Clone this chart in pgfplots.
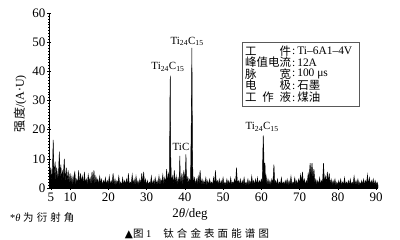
\documentclass[border=0pt]{standalone}
\usepackage{fontspec}
\setmainfont{Liberation Serif}
\newfontfamily\cjk{Noto Sans CJK SC}
\newfontfamily\cjkw[LetterSpace=30]{Noto Sans CJK SC}
\newfontfamily\cjky[LetterSpace=10]{Noto Sans CJK SC}
\newfontfamily\djv{DejaVu Sans}
\usepackage{pgfplots}
\pgfplotsset{compat=1.18}
\begin{document}
\begin{tikzpicture}[x=1bp,y=1bp]
\useasboundingbox (0,0) rectangle (400,240);
\begin{axis}[at={(49bp,52bp)}, anchor=south west, scale only axis,
  width=329bp, height=175bp,
  xmin=4.5, xmax=90.5, ymin=0, ymax=60,
  axis x line=bottom, axis y line=left,
  axis line style={-, line width=0.7pt},
  xtick={5,10,20,30,40,50,60,70,80,90},
  minor xtick={6,7,...,89},
  ytick={0,10,...,60}, minor y tick num=9,
  tick align=center,
  major tick length=4bp, minor tick length=2bp,
  every tick/.style={line width=0.5pt, black},
  /pgf/number format/assume math mode=true,
  ticklabel style={font=\fontsize{13}{14}\selectfont},
  yticklabel style={inner xsep=1.5bp},
  xticklabel style={inner ysep=2.5bp},
  clip=false]
\addplot[black, fill=black, line width=0.45pt, mark=none] coordinates {
(4.6,11) (4.8,3) (5.0,7) (5.2,2) (5.4,6) (5.6,16.5) (5.8,4) (6.1,9) (6.3,2) (6.5,7)
(6.8,3) (7.0,5) (7.2,12.5) (7.4,3) (7.6,8) (7.8,2) (8.0,6) (8.2,3) (8.5,10) (8.7,2)
(9.0,7) (9.25,2) (9.5,6) (9.75,1.5)
(10.0,5) (10.25,1.5) (10.5,4) (10.75,1) (11.0,4) (11.25,5.5) (11.5,1) (11.75,3) (12.0,1.5) (12.25,6)
(12.5,1) (12.75,5) (13.0,2) (13.25,4) (13.5,1) (13.75,5.5) (14.0,1.5) (14.25,3) (14.5,1) (14.75,4.5)
(15.0,2) (15.25,3.5) (15.5,1) (15.75,5.5) (16.0,1.5) (16.25,6) (16.5,1) (16.75,4) (17.0,2) (17.25,3)
(17.5,1) (17.75,4) (18.0,1.5) (18.25,3) (18.5,0.8) (18.75,2.5) (19.0,1.5) (19.25,3.5) (19.5,1) (19.75,2.5)
(20.0,1) (20.25,4) (20.5,0.8) (20.75,2.5) (21.0,1.2) (21.25,5) (21.5,1) (21.75,3) (22.0,0.8) (22.25,2.5)
(22.5,1.5) (22.75,4) (23.0,1) (23.25,2) (23.5,0.8) (23.75,3.5) (24.0,1) (24.25,2.5) (24.5,1.2) (24.75,3)
(25.0,0.8) (25.25,5) (25.5,1) (25.75,2) (26.0,1.5) (26.25,4.5) (26.5,1) (26.75,3) (27.0,0.8) (27.25,4)
(27.5,1.2) (27.75,2.5) (28.0,1) (28.25,3) (28.5,1) (28.75,5) (29.0,1.5) (29.25,5.5) (29.5,1) (29.75,3)
(30.0,0.8) (30.25,2.5) (30.5,1) (30.75,2) (31.0,1.2) (31.25,4) (31.5,0.8) (31.75,2.5) (32.0,1) (32.25,3.5)
(32.5,1.2) (32.75,2.5) (33.0,1) (33.25,4) (33.5,0.8) (33.75,3) (34.0,1.5) (34.25,4.5) (34.5,1) (34.75,3.5)
(35.0,1.5) (35.25,6.5) (35.5,2) (35.75,5)
(36.0,3) (36.1,29) (36.2,38.5) (36.3,12) (36.5,1.5) (36.75,4) (37.0,1) (37.25,6) (37.5,1.5) (37.75,4)
(38.0,1) (38.25,3.5) (38.5,1.5) (38.6,5) (38.7,11) (38.8,4) (39.0,1.5) (39.25,5) (39.5,1) (39.75,6)
(40.0,2) (40.2,7) (40.3,11.5) (40.4,5) (40.6,1.5) (40.8,4) (41.0,1) (41.25,3) (41.5,2) (41.7,24)
(41.85,48) (42.0,14) (42.1,5) (42.25,1.5) (42.5,3.5) (42.75,1)
(43.0,3) (43.25,1) (43.5,4) (43.75,1.5) (44.0,6) (44.25,1) (44.5,3) (44.75,1) (45.0,2.5) (45.25,1.2)
(45.5,3.5) (45.75,0.8) (46.0,2.5) (46.25,1) (46.5,3) (46.75,1.2) (47.0,2) (47.25,1) (47.5,3.5) (47.75,1)
(48.0,6) (48.25,1.5) (48.5,2.5) (48.75,1) (49.0,3) (49.25,0.8) (49.5,2.5) (49.75,1.2) (50.0,3.5) (50.25,1)
(50.5,2) (50.75,1) (51.0,3) (51.25,1.2) (51.5,2.5) (51.75,0.8) (52.0,3.5) (52.25,1) (52.5,2) (52.75,1.5)
(53.0,3) (53.25,1) (53.5,7) (53.75,1.5) (54.0,2.5) (54.25,1) (54.5,3) (54.75,0.8) (55.0,2.5) (55.25,1.2)
(55.5,3.5) (55.75,1) (56.0,2) (56.25,1) (56.5,3) (56.75,0.8) (57.0,2.5) (57.25,1) (57.5,4) (57.75,1.2)
(58.0,2.5) (58.25,1) (58.5,3) (58.75,1) (59.0,3.5) (59.25,1) (59.5,2.5) (59.75,1.5) (60.0,3) (60.25,2)
(60.5,18) (60.65,12) (60.8,3) (60.95,8.5) (61.1,2) (61.25,4) (61.5,1) (61.75,3) (62.0,1) (62.25,2.5)
(62.5,1) (62.75,3) (63.0,1.5) (63.3,8) (63.5,1.5) (63.75,2.5) (64.0,1) (64.25,3) (64.5,0.8) (64.75,2)
(65.0,1.2) (65.25,3.5) (65.5,1) (65.75,2) (66.0,1) (66.25,2.5) (66.5,1.2) (66.75,3) (67.0,0.8) (67.25,2.5)
(67.5,1) (67.75,4) (68.0,1) (68.25,2) (68.5,1.5) (68.75,3.5) (69.0,1) (69.25,2.5) (69.5,1) (69.75,3)
(70.0,1.5) (70.25,4.5) (70.5,2) (70.75,5.5) (71.0,1.5) (71.25,3) (71.5,1) (71.75,2.5) (72.0,1.5) (72.25,5)
(72.5,3) (72.75,8.5) (73.0,4) (73.25,8.5) (73.5,3) (73.75,6.5) (74.0,1.5) (74.25,3) (74.5,1) (74.75,2.5)
(75.0,1.2) (75.25,3.5) (75.5,1) (75.75,2.5) (76.0,1.5) (76.25,8.5) (76.5,2) (76.75,4) (77.0,1.5) (77.25,5.5)
(77.5,2) (77.75,5) (78.0,1) (78.25,3) (78.5,1) (78.75,2.5) (79.0,1.2) (79.25,3) (79.5,0.8) (79.75,2)
(80.0,1) (80.25,2.5) (80.5,1) (80.75,3) (81.0,0.8) (81.25,2) (81.5,1.2) (81.75,3.5) (82.0,1) (82.25,2)
(82.5,1) (82.75,2.5) (83.0,0.8) (83.25,3) (83.5,1) (83.75,2) (84.0,1.2) (84.25,4) (84.5,1) (84.75,2.5)
(85.0,1) (85.25,3) (85.5,0.8) (85.75,2) (86.0,1) (86.25,2.5) (86.5,1.2) (86.75,3) (87.0,1) (87.25,2.5)
(87.5,1.5) (87.75,4.5) (88.0,1) (88.25,3.5) (88.5,1) (88.75,2.5) (89.0,1.2) (89.25,3) (89.5,0.8) (89.75,2.5)
(90.0,1) (90.25,2) (90.5,1)
} \closedcycle;
\node[font=\fontsize{11}{12}\selectfont] at (axis cs:35.6,41.5) {Ti\textsubscript{24}C\textsubscript{15}};
\node[font=\fontsize{11}{12}\selectfont] at (axis cs:40.6,50.2) {Ti\textsubscript{24}C\textsubscript{15}};
\node[font=\fontsize{11}{12}\selectfont] at (axis cs:60.2,21) {Ti\textsubscript{24}C\textsubscript{15}};
\node[font=\fontsize{11}{12}\selectfont] at (axis cs:39.0,14) {TiC};
\end{axis}
% y label
\node[rotate=90, font=\fontsize{12}{13}\selectfont] at (20,136) {{\cjky 强度}/(A{\djv ·}U)};
% x label
\node[font=\fontsize{13}{14}\selectfont] at (190,26) {2{\itshape θ}/deg};
% info box
\draw[gray!70!black, line width=0.6pt] (242,198) rectangle (359,134);
\begin{scope}[every node/.style={anchor=west, inner sep=0pt, font=\fontsize{11.5}{12}\selectfont}]
\node at (245,189) {\cjk\makebox[46bp][s]{工\hfill 件}};
\node at (245,177.5) {\cjk\makebox[46bp][s]{峰\hfill 值\hfill 电\hfill 流}};
\node at (245,166) {\cjk\makebox[46bp][s]{脉\hfill 宽}};
\node at (245,154.5) {\cjk\makebox[46bp][s]{电\hfill 极}};
\node at (245,143) {\cjk\makebox[46bp][s]{工\hfill 作\hfill 液}};
\node at (292,189) {:\,Ti–6A1–4V};
\node at (292,177.5) {:\,12A};
\node at (292,166) {:\,100 μs};
\node at (292,154.5) {:\,{\cjk 石墨}};
\node at (292,143) {:\,{\cjk 煤油}};
\end{scope}
% notes
\node[anchor=west, inner sep=0pt, font=\fontsize{10.5}{12}\selectfont] at (10,22) {*{\itshape θ} {\cjkw 为衍射角}};
\node[inner sep=0pt, font=\fontsize{10.5}{12}\selectfont] at (197,6) {{\djv ▲}{\cjkw 图} 1\hspace{12bp}{\cjkw 钛合金表面能谱图}};
\end{tikzpicture}
\end{document}
